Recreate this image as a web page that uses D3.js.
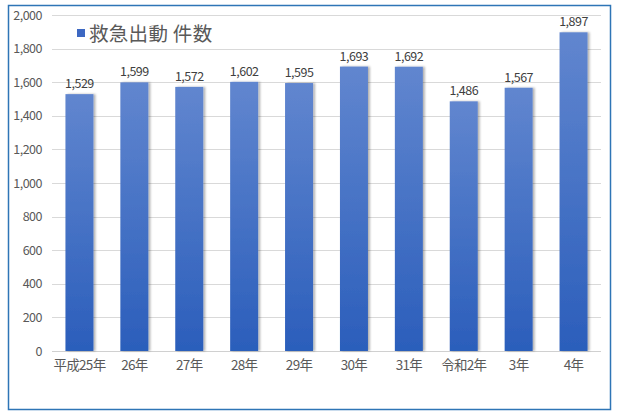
<!DOCTYPE html>
<html><head><meta charset="utf-8">
<script src="https://cdn.jsdelivr.net/npm/d3@7"></script>
<style>body{margin:0;background:#fff;} text{font-family:"Noto Sans CJK JP","Liberation Sans",sans-serif;}</style>
</head><body>
<svg id="c" width="620" height="415"></svg>
<script>
const categories = ["平成25年","26年","27年","28年","29年","30年","31年","令和2年","3年","4年"];
const values = [1529,1599,1572,1602,1595,1693,1692,1486,1567,1897];
const yTicks = [0,200,400,600,800,1000,1200,1400,1600,1800,2000];
const seriesName = "救急出動 件数";

const svg = d3.select("#c");
const defs = svg.append("defs");
const g = defs.append("linearGradient").attr("id","bg").attr("x1",0).attr("y1",0).attr("x2",0).attr("y2",1);
g.append("stop").attr("offset","0%").attr("stop-color","#6186cf");
g.append("stop").attr("offset","100%").attr("stop-color","#2b5ebb");
const f = defs.append("filter").attr("id","sh").attr("x","-20%").attr("y","-5%").attr("width","150%").attr("height","110%");
f.append("feDropShadow").attr("dx",2).attr("dy",0).attr("stdDeviation",1.2).attr("flood-color","#000").attr("flood-opacity",0.3);

svg.append("rect").attr("x",8.5).attr("y",5.5).attr("width",602).attr("height",404)
  .attr("fill","#fff").attr("stroke","#2e75b6").attr("stroke-width",1.5);

const x = d3.scaleBand().domain(categories).range([52,601]).paddingInner(0.49).paddingOuter(0.245);
const y = d3.scaleLinear().domain([0,2000]).range([351,15]);

// grid
svg.append("g").selectAll("line").data(yTicks).join("line")
  .attr("x1",52).attr("x2",601).attr("y1",d=>Math.round(y(d))+0.5).attr("y2",d=>Math.round(y(d))+0.5)
  .attr("stroke",d=>d===0?"#d0d0d0":"#d9d9d9").attr("stroke-width",1);

// y axis labels
const ya = svg.append("g").attr("transform","translate(42,0)")
  .call(d3.axisLeft(y).tickValues(yTicks).tickSize(0).tickPadding(0).tickFormat(d3.format(",")));
ya.select(".domain").remove();
ya.selectAll("text").attr("font-size",12.5).attr("fill","#595959").attr("letter-spacing","-0.5");

// x axis labels
const xa = svg.append("g").attr("transform","translate(0,360)")
  .call(d3.axisBottom(x).tickSize(0).tickPadding(0));
xa.select(".domain").remove();
xa.selectAll("text").attr("font-size",13.5).attr("fill","#595959").attr("letter-spacing","-0.7").attr("dy","0.71em");

// bars
svg.append("g").selectAll("rect").data(values).join("rect")
  .attr("x",(d,i)=>x(categories[i])).attr("width",x.bandwidth())
  .attr("y",d=>y(d)).attr("height",d=>y(0)-y(d))
  .attr("fill","url(#bg)").attr("filter","url(#sh)");

// labels
svg.append("g").selectAll("text").data(values).join("text")
  .attr("x",(d,i)=>x(categories[i])+x.bandwidth()/2).attr("y",d=>y(d)-6)
  .attr("text-anchor","middle").attr("font-size",12.5).attr("fill","#404040").attr("letter-spacing","-0.5")
  .text(d3.format(","));

// legend
svg.append("rect").attr("x",77).attr("y",29).attr("width",8).attr("height",8).attr("fill","#3d68c2");
svg.append("text").attr("x",89).attr("y",40.5).attr("font-size",19.5).attr("fill","#595959").attr("letter-spacing","0.3").text(seriesName);
</script>
</body></html>
